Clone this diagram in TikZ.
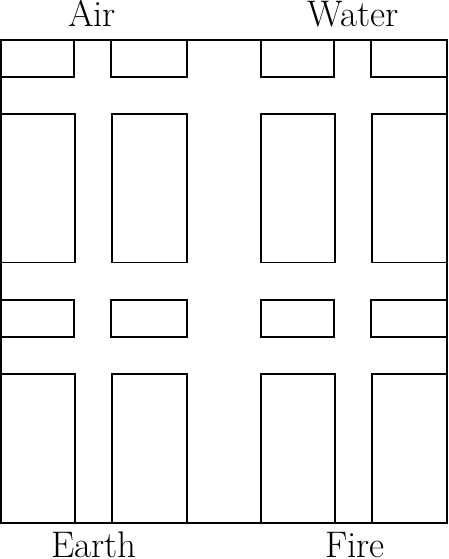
\documentclass[tikz,border=0pt]{standalone}
\tikzstyle{pane} = [draw, line width=1.4pt]
\tikzstyle{element} = [font=\fontsize{37}{40}\selectfont, anchor=base, inner sep=0pt]

\begin{document}
\begin{tikzpicture}[x=1pt,y=-1pt]
  \useasboundingbox (0,0) rectangle (448,559);

  \draw[pane] (1,40) rectangle (447,523);
  \foreach \qx/\qy in {1/40, 261/40, 1/300, 261/300} {
    \begin{scope}[shift={(\qx,\qy)}]
      \draw[pane] (0,0) rectangle (73,37);
      \draw[pane] (110,0) rectangle (186,37);
      \draw[pane] (0,74) rectangle (74,222.5);
      \draw[pane] (111,74) rectangle (186,222.5);
    \end{scope}
  }

  \node[element] (air)   at (92,27)   {Air};
  \node[element] (water) at (353,27)  {Water};
  \node[element] (earth) at (94,557)  {Earth};
  \node[element] (fire)  at (355,557) {Fire};
\end{tikzpicture}
\end{document}
